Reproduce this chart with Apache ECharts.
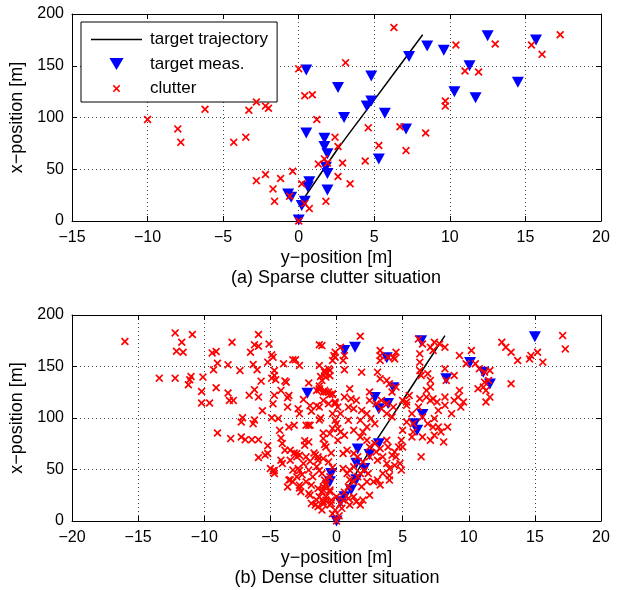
<!DOCTYPE html>
<html><head><meta charset="utf-8">
<script src="https://cdn.jsdelivr.net/npm/echarts@6/dist/echarts.min.js"></script>
<style>html,body{margin:0;padding:0;background:#fff}#c{width:617px;height:590px}</style>
</head><body><div id="c"></div>
<script>
// Data: each point is [y-position (horizontal), x-position (vertical)]
const trajectory = [[0.4,23],[2.6,70],[5,117],[8.2,180]];

const sparseMeas = [[0.5,146],[2.6,129],[0.5,85],[1.7,80],[1.7,72],[1.9,65],[1.8,52],[1.9,46],[1.9,30],[0.7,38],[0.6,33],[-0.7,26],[-0.5,23],[0.4,19],[0.2,15],[0,1],[12.5,179],[15.7,175],[8.5,169],[9.6,165],[7.3,159],[11.3,150],[4.8,140],[10.3,125],[11.7,119],[14.5,134],[4.8,116],[4.5,111],[5.7,104],[3,100],[7.1,89],[5.3,60]];

const sparseClutter = [[-10,98],[-8,89],[-7.8,76],[-6.2,108],[-4.3,76],[-3.5,81],[-3.3,107],[-2.8,115],[-2.2,111],[-2,109],[0,147],[0.4,121],[0.9,122],[1.2,98],[-2.8,39],[-2.2,45],[-1.7,31],[-1.6,19],[-1.2,41],[-0.4,48],[-0.6,24],[0.2,36],[0.4,17],[0.7,12],[1.8,19],[1.3,55],[1.7,60],[1.9,56],[2.4,81],[2.6,72],[2.6,43],[0,0],[6.3,187],[10.4,170],[13,171],[15.4,170],[16.1,161],[17.3,180],[3.1,153],[11,145],[11.9,144],[9.7,116],[9.7,111],[4.6,90],[6.7,91],[8.4,85],[5.3,73],[7.1,68],[4.4,58],[2.9,56],[3.4,36]];

const denseMeas = [[0.6,165.5],[1.4,168.7],[3.8,158.4],[4.3,129.4],[2.9,120],[3.2,109],[3.9,114],[6.4,175],[8.3,138],[10.1,154],[11.1,144.5],[11.6,133],[15,179],[6.5,103.5],[5.9,94.5],[6.1,88],[3.2,75],[1.6,70],[2.5,64.5],[1.5,56],[2.1,51],[-0.4,46],[-0.5,38],[1.5,40],[1.1,30],[0.6,23.5],[0.3,18.7],[0,0],[-2.2,124]];

const denseClutter = [
[-16.0,174.2],[-12.2,182.6],[-10.9,181.0],[-11.7,173.5],[-12.1,164.8],[-11.6,163.9],[-7.9,173.5],[-5.9,181.0],[-6.2,171.0],[-5.9,169.7],[-5.1,171.9],[-9.4,163.2],[-9.1,164.5],[-9.0,153.2],[-9.3,146.8],[-8.2,151.6],[-6.5,163.9],[-6.3,151.9],[-6.0,146.8],[-5.2,154.2],[-4.9,161.3],[-4.8,159.0],[-4.7,146.1],[-4.7,141.3],[-4.0,152.6],[-3.3,156.5],[-3.1,156.5],
[-13.4,138.7],[-12.2,138.7],[-11.0,140.3],[-11.2,132.3],[-11.1,137.1],[-10.1,139.7],[-10.2,125.8],[-10.2,114.5],[-9.6,114.5],[-9.1,129.4],[-8.2,124.2],[-7.8,117.1],[-5.7,135.8],[-6.2,127.4],[-5.9,120.3],[-4.9,138.7],[-4.6,137.1],[-4.2,126.8],[-3.8,134.8],[-3.7,119.7],[-3.6,121.9],[-3.7,110.6],[-2.9,109.0],[-2.8,104.2],[-4.8,113.9],[-4.9,100.3],[-4.4,99.4],[-7.1,100.3],[-7.2,96.1],[-6.3,94.5],
[-9.0,85.5],[-8.0,80.0],[-7.2,81.6],[-6.9,79.0],[-6.4,79.0],[-5.9,79.0],[-5.9,61.6],[-5.2,65.5],[-5.0,51.0],[-4.7,46.1],[-4.8,48.7],[-4.2,59.0],[-4.1,55.8],[-4.2,80.6],[-4.1,75.2],[-3.6,91.3],[-3.9,68.7],[-3.5,68.7],[-3.2,66.1],[-3.0,65.5],[-2.8,63.9],[-2.3,92.9],[-2.1,92.9],[-2.0,92.9],[-1.9,106.5],[-2.1,134.0],
[-1.5,126.8],[-1.3,127.4],[-1.0,125.2],[-0.8,125.2],[-0.5,122.9],[-0.3,122.9],[-1.3,171.0],[-0.9,146.1],[-0.8,142.9],[-0.6,147.7],[-1.2,140.3],[-1.0,85.5],[-1.0,80.0],[-0.8,71.9],[-0.9,74.2],[-1.4,62.3],[-1.0,60.6],[-0.6,57.4],[-1.4,59.0],[-2.4,73.5],[-2.3,62.3],[-2.5,55.8],[-3.0,62.3],[-2.1,76.8],
[-3.3,49.4],[-2.9,51.0],[-3.0,42.9],[-3.3,38.1],[-3.6,39.7],[-2.1,49.4],[-1.8,42.9],[-2.3,38.1],[-1.9,34.8],[-1.5,52.6],[-1.1,46.1],[-0.9,39.7],[-0.8,34.8],[-1.4,31.6],[-1.0,30.0],[-0.5,28.4],[-1.3,23.5],[-0.8,20.3],[-0.4,17.1],[-1.0,16.5],[-1.4,13.9],[0.0,0],[-2.7,28.4],[-2.1,26.8],[-2.8,34.8],[-1.9,17.1],[-1.5,20.3],
[-0.1,163.9],[-0.3,155.8],[-0.1,159.0],[-0.1,115.5],[0.1,110.6],[-0.3,104.2],[0.0,94.5],[0.1,89.7],[0.1,78.4],[-1.5,112],[-2.5,118],[-1.2,100],[-2.6,45],[-1.7,66],[-0.4,66],[-2.0,58],[-3.7,33],[-0.3,52],
[1.8,179.4],[-1.1,170.3],[-0.2,160.6],[0.3,168.7],[0.6,160.6],[0.5,155.8],[0.6,146.8],[-1.3,151.0],[-0.9,144.5],[-0.5,146.1],[-0.8,139.7],[-1.1,136.5],[-1.3,128.4],[-0.9,126.8],[-0.6,125.2],[-0.3,123.5],[-1.0,117.1],[-0.6,113.9],[-0.1,113.9],[-1.3,110.6],
[1.9,144.5],[1.0,128.4],[0.6,120.3],[1.1,118.7],[1.5,117.1],[1.9,107.4],[1.3,109.0],[0.9,110.6],[0.3,104.2],[-0.1,97.7],[-0.3,89.7],[-0.5,84.8],[0.3,86.5],[0.6,83.2],[1.3,88.1],[0.9,97.7],[1.8,97.7],
[3.3,165.5],[3.3,155.8],[3.3,160.6],[3.9,159.0],[4.3,159.0],[4.5,163.9],[4.4,157.4],[3.1,144.5],[3.3,138.1],[3.8,136.5],[4.0,133.2],[4.2,125.2],[4.5,130.0],[2.5,125.2],[2.5,117.1],[3.0,113.9],[3.4,117.1],[3.8,113.9],[3.4,109.0],[3.8,104.2],[4.2,101.0],[4.3,110.6],[5.0,117.1],[5.3,115.5],
[2.3,104.2],[2.6,99.4],[2.9,94.5],[2.3,91.3],[2.0,86.5],[1.8,81.6],[2.3,78.4],[2.5,71.9],[2.9,75.2],[3.0,67.1],[3.3,70.3],[3.8,78.4],[3.9,71.9],[4.2,63.9],[4.4,67.1],[4.5,62.3],[4.8,55.8],[4.9,49.4],[3.5,62.3],[3.8,55.8],[3.1,59.0],[4.0,51.0],[3.5,46.1],[4.0,39.7],
[2.5,62.3],[2.0,57.4],[1.6,62.3],[1.3,65.5],[0.8,68.7],[0.5,65.5],[1.3,52.6],[1.0,49.4],[0.8,46.1],[0.5,51.0],[1.6,42.9],[1.3,38.1],[0.9,33.2],[1.9,33.2],[2.3,38.1],[2.8,38.1],[3.1,39.7],[2.4,46.1],[1.8,46.1],
[-0.5,42.9],[-0.8,36.5],[-1.0,33.2],[-1.1,28.4],[-0.8,23.5],[-0.4,20.3],[0.0,23.5],[0.5,20.3],[0.3,17.1],[0.9,21.9],[1.3,23.5],[1.5,18.7],[2.0,20.3],[1.0,15.5],[0.4,12.3],[-0.1,10.6],[-0.5,15.5],[-1.0,18.7],[0.2,5],[-0.3,7],
[6.2,176.8],[6.5,171.9],[7.1,168.7],[7.3,165.5],[7.4,173.5],[7.8,171.9],[8.2,168.7],[6.3,162.3],[6.3,154.2],[6.3,146.1],[6.4,141.3],[6.9,142.9],[7.1,136.5],[7.1,130.0],[6.8,126.8],[6.8,120.3],[8.2,147.7],[8.9,141.3],[8.3,136.5],
[9.3,160.6],[10.2,165.5],[9.8,152.6],[10.5,152.6],[10.8,147.7],[11.2,144.5],[11.6,146.1],[11.5,136.5],[11.2,134.8],[11.1,130.0],[11.3,126.8],[11.6,120.3],[11.3,115.5],[10.7,128.4],
[12.5,173.5],[12.8,168.7],[13.2,163.9],[13.7,155.8],[14.6,157.4],[14.7,160.6],[15.2,163.9],[15.6,154.2],[17.1,180.0],[17.3,167.1],[13.2,133.2],
[9.3,126.8],[8.9,117.1],[9.2,120.3],[9.6,115.5],[9.4,110.6],[8.7,104.2],[8.2,120.3],[8.2,112.3],[7.7,107.4],[7.6,115.5],[7.3,118.7],[7.1,117.1],[6.3,118.7],[6.2,110.6],
[5.5,121.9],[5.3,112.3],[5.7,104.2],[5.8,94.5],[5.8,86.5],[5.7,81.6],[6.5,81.6],[7.1,78.4],[7.4,83.2],[7.7,91.3],[7.9,86.5],[8.1,76.8],[7.3,91.3],[6.9,94.5],[7.4,99.4],[6.5,101.0],[5.3,96.1],[5.0,88.1],[4.9,78.4],[4.7,71.9],[5.0,71.9],[6.4,62.3],[8.4,91.3],
[-5.2,73],[-4.7,49],[-3.5,40],[-2.8,32],[-2.0,25],[-1.6,15.5],[-1.1,10.6],[-4.3,88],[-3.2,93],[-2.4,78],[-1.6,64],[-1.3,49],[-3.5,59],[-2.8,49],[-0.5,30],[0.6,28],[1.8,15.5],[2.5,25],[3.3,35],[4.0,44],[4.4,54],[1.0,40],[2.1,49],[-6.2,98],[-5.6,107],[-6.6,122],[-4.7,122],[-2.0,112],[-1.3,131],[-0.5,141],[-2.8,151],[-3.9,136],[-7.3,146],[-8.1,117],[-1.3,98],[-5.4,64]
];

const sparseXTicks = {min:-15, max:20, interval:5};
const denseXTicks = {min:-20, max:20, interval:5};
const yTicks = {min:0, max:200, interval:50};

const FONT = 'Liberation Sans, Arial, Helvetica, sans-serif';
const minus = v => String(v).replace('-', '\u2212');
const crossPath = 'path://M0,1.5L1.5,0L5,3.5L8.5,0L10,1.5L6.5,5L10,8.5L8.5,10L5,6.5L1.5,10L0,8.5L3.5,5Z';
const crossIcon = 'path://M-3,-3L-2.99,-3L-3,-2.99Z M13,13L12.99,13L13,12.99Z M0,1.5L1.5,0L5,3.5L8.5,0L10,1.5L6.5,5L10,8.5L8.5,10L5,6.5L1.5,10L0,8.5L3.5,5Z';
const triIcon = 'path://M0,0L13,0L6.5,11Z';
const lineIcon = 'path://M0,0L100,0L100,3L0,3Z';

function xAx(gi, t, pos, main, name){
  return {
    type:'value', gridIndex:gi, position:pos, min:t.min, max:t.max, interval:t.interval,
    axisLine:{show:true, onZero:false, lineStyle:{color:'#000', width:1}},
    axisTick:{show:true, inside:true, length:5, lineStyle:{color:'#000'}},
    axisLabel:{show:main, color:'#000', fontSize:16, fontFamily:FONT, margin:9, formatter:minus},
    splitLine:{show:main, lineStyle:{color:'#444', type:[1,3], width:1}},
    name: main ? name : '', nameLocation:'middle', nameGap:28,
    nameTextStyle:{color:'#000', fontSize:18, fontFamily:FONT}
  };
}
function yAx(gi, t, pos, main){
  return {
    type:'value', gridIndex:gi, position:pos, min:t.min, max:t.max, interval:t.interval,
    axisLine:{show:true, onZero:false, lineStyle:{color:'#000', width:1}},
    axisTick:{show:true, inside:true, length:5, lineStyle:{color:'#000'}},
    axisLabel:{show:main, color:'#000', fontSize:16, fontFamily:FONT, margin:8, formatter:minus},
    splitLine:{show:main, lineStyle:{color:'#444', type:[1,3], width:1}},
    name: main ? 'x\u2212position [m]' : '', nameLocation:'middle', nameGap:32,
    nameTextStyle:{color:'#000', fontSize:18, fontFamily:FONT}
  };
}

function seriesSet(xi, yi, meas, clutter){
  return [
    {name:'target trajectory', type:'line', xAxisIndex:xi, yAxisIndex:yi, data:trajectory,
     showSymbol:false, symbol:'none', smooth:0.2, lineStyle:{color:'#000', width:1.5}, itemStyle:{color:'#000'}, z:3, silent:true, animation:false},
    {name:'target meas.', type:'scatter', xAxisIndex:xi, yAxisIndex:yi, data:meas,
     symbol:'triangle', symbolSize:[12,11], symbolRotate:180, itemStyle:{color:'#0000ff', opacity:1}, z:4, silent:true, animation:false},
    {name:'clutter', type:'scatter', xAxisIndex:xi, yAxisIndex:yi, data:clutter,
     symbol:crossPath, symbolSize:8, itemStyle:{color:'#ff0000', opacity:1}, z:5, silent:true, animation:false}
  ];
}

const chart = echarts.init(document.getElementById('c'), null, {renderer:'canvas'});
chart.setOption({
  backgroundColor:'#fff',
  animation:false,
  grid:[
    {left:72, right:16, top:14, height:207, containLabel:false},
    {left:72, right:16, top:315, height:206, containLabel:false}
  ],
  xAxis:[
    xAx(0, sparseXTicks, 'bottom', true, 'y\u2212position [m]'),
    xAx(0, sparseXTicks, 'top', false, ''),
    xAx(1, denseXTicks, 'bottom', true, 'y\u2212position [m]'),
    xAx(1, denseXTicks, 'top', false, '')
  ],
  yAxis:[
    yAx(0, yTicks, 'left', true),
    yAx(0, yTicks, 'right', false),
    yAx(1, yTicks, 'left', true),
    yAx(1, yTicks, 'right', false)
  ],
  legend:{
    data:[
      {name:'target trajectory', icon:lineIcon, itemStyle:{color:'#000'}},
      {name:'target meas.', icon:triIcon, itemStyle:{color:'#0000ff'}},
      {name:'clutter', icon:crossIcon, itemStyle:{color:'#ff0000'}}
    ],
    symbolRotate:0,
    orient:'vertical', left:81, top:22,
    itemWidth:51, itemHeight:12, itemGap:7.5, padding:[9,9,5,10],
    backgroundColor:'#fff', borderColor:'#000', borderWidth:1,
    textStyle:{color:'#000', fontSize:17, fontFamily:FONT, padding:[0,0,0,3]},
    selectedMode:false
  },
  graphic:[
    {type:'text', x:336, y:269, style:{text:'(a) Sparse clutter situation', fill:'#000', font:'18px '+FONT, align:'center', textAlign:'center'}},
    {type:'text', x:337, y:569, style:{text:'(b) Dense clutter situation', fill:'#000', font:'18px '+FONT, align:'center', textAlign:'center'}}
  ],
  series:[].concat(seriesSet(0,0,sparseMeas,sparseClutter), seriesSet(2,2,denseMeas,denseClutter))
});
</script></body></html>
